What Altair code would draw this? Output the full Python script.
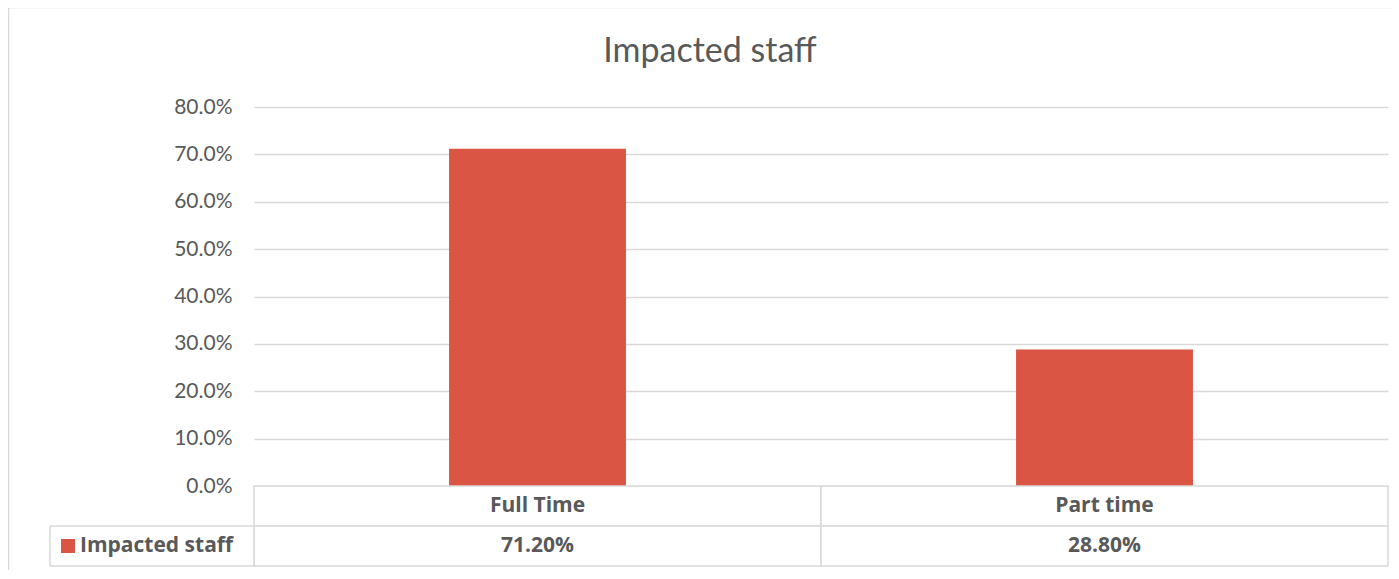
import altair as alt
import pandas as pd

categories = ["Full Time", "Part time"]
values = [0.712, 0.288]
series_name = "Impacted staff"
chart_title = "Impacted staff"
y_ticks = [0.0, 0.1, 0.2, 0.3, 0.4, 0.5, 0.6, 0.7, 0.8]

df = pd.DataFrame({"category": categories, "value": values})
legend_df = pd.DataFrame({"name": [series_name]})
title_df = pd.DataFrame({"title": [chart_title]})

BAR = "#DA5544"
GRID = "#D9D9D9"
TXT = "#595959"
FONT = "Lato"
BFONT = "Open Sans"

x_enc = alt.X("category:N", sort=categories, axis=None,
              scale=alt.Scale(paddingInner=0, paddingOuter=0))

# outer chart frame
frame = alt.Chart(legend_df).mark_rect(fill="transparent", stroke=GRID, strokeWidth=1.5).encode(
    x=alt.value(-245.5), x2=alt.value(1300), y=alt.value(-99.5), y2=alt.value(700))

title = alt.Chart(title_df).mark_text(fontSize=34, font=FONT, color=TXT, align="center",
                                      baseline="alphabetic").encode(
    x=alt.value(456), y=alt.value(-45), text="title:N")

bars = alt.Chart(df).mark_bar(width=alt.RelativeBandSize(0.312), color=BAR).encode(
    x=x_enc,
    y=alt.Y("value:Q", scale=alt.Scale(domain=[0, 0.8]),
            axis=alt.Axis(values=y_ticks, format=".1%", title=None, ticks=False,
                          domain=False, labelColor=TXT, labelFontSize=21,
                          labelFont=FONT, labelPadding=22, gridColor=GRID,
                          gridWidth=1.5)),
)

# data table: header row and value row
header_cells = alt.Chart(df).mark_rect(fill="white", stroke=GRID, strokeWidth=1.5).encode(
    x=x_enc, y=alt.value(379), y2=alt.value(419))
value_cells = alt.Chart(df).mark_rect(fill="white", stroke=GRID, strokeWidth=1.5).encode(
    x=x_enc, y=alt.value(419), y2=alt.value(459))
legend_cell = alt.Chart(legend_df).mark_rect(fill="white", stroke=GRID, strokeWidth=1.5).encode(
    x=alt.value(-204), x2=alt.value(0), y=alt.value(419), y2=alt.value(459))

header_text = alt.Chart(df).mark_text(fontWeight="bold", fontSize=21, color=TXT, font=BFONT,
                                      baseline="middle").encode(
    x=x_enc, text="category:N", y=alt.value(399))
value_text = alt.Chart(df).mark_text(fontWeight="bold", fontSize=21, color=TXT, font=BFONT,
                                     baseline="middle").encode(
    x=x_enc, text=alt.Text("value:Q", format=".2%"), y=alt.value(439))

legend_square = alt.Chart(legend_df).mark_square(size=196, color=BAR, opacity=1).encode(
    x=alt.value(-186), y=alt.value(439))
legend_text = alt.Chart(legend_df).mark_text(fontWeight="bold", fontSize=21, color=TXT, font=BFONT,
                                             align="left", baseline="middle").encode(
    x=alt.value(-174), y=alt.value(439), text="name:N")

chart = alt.layer(
    frame, title, bars, header_cells, value_cells, legend_cell,
    header_text, value_text, legend_square, legend_text,
).properties(
    width=1134, height=379,
    background="white",
    autosize=alt.AutoSizeParams(type="none"),
    padding={"left": 246, "top": 99, "right": 3, "bottom": 84},
).configure_view(stroke="transparent", strokeWidth=0)

chart.save("out.html", embed_options={"renderer": "svg", "actions": False})
